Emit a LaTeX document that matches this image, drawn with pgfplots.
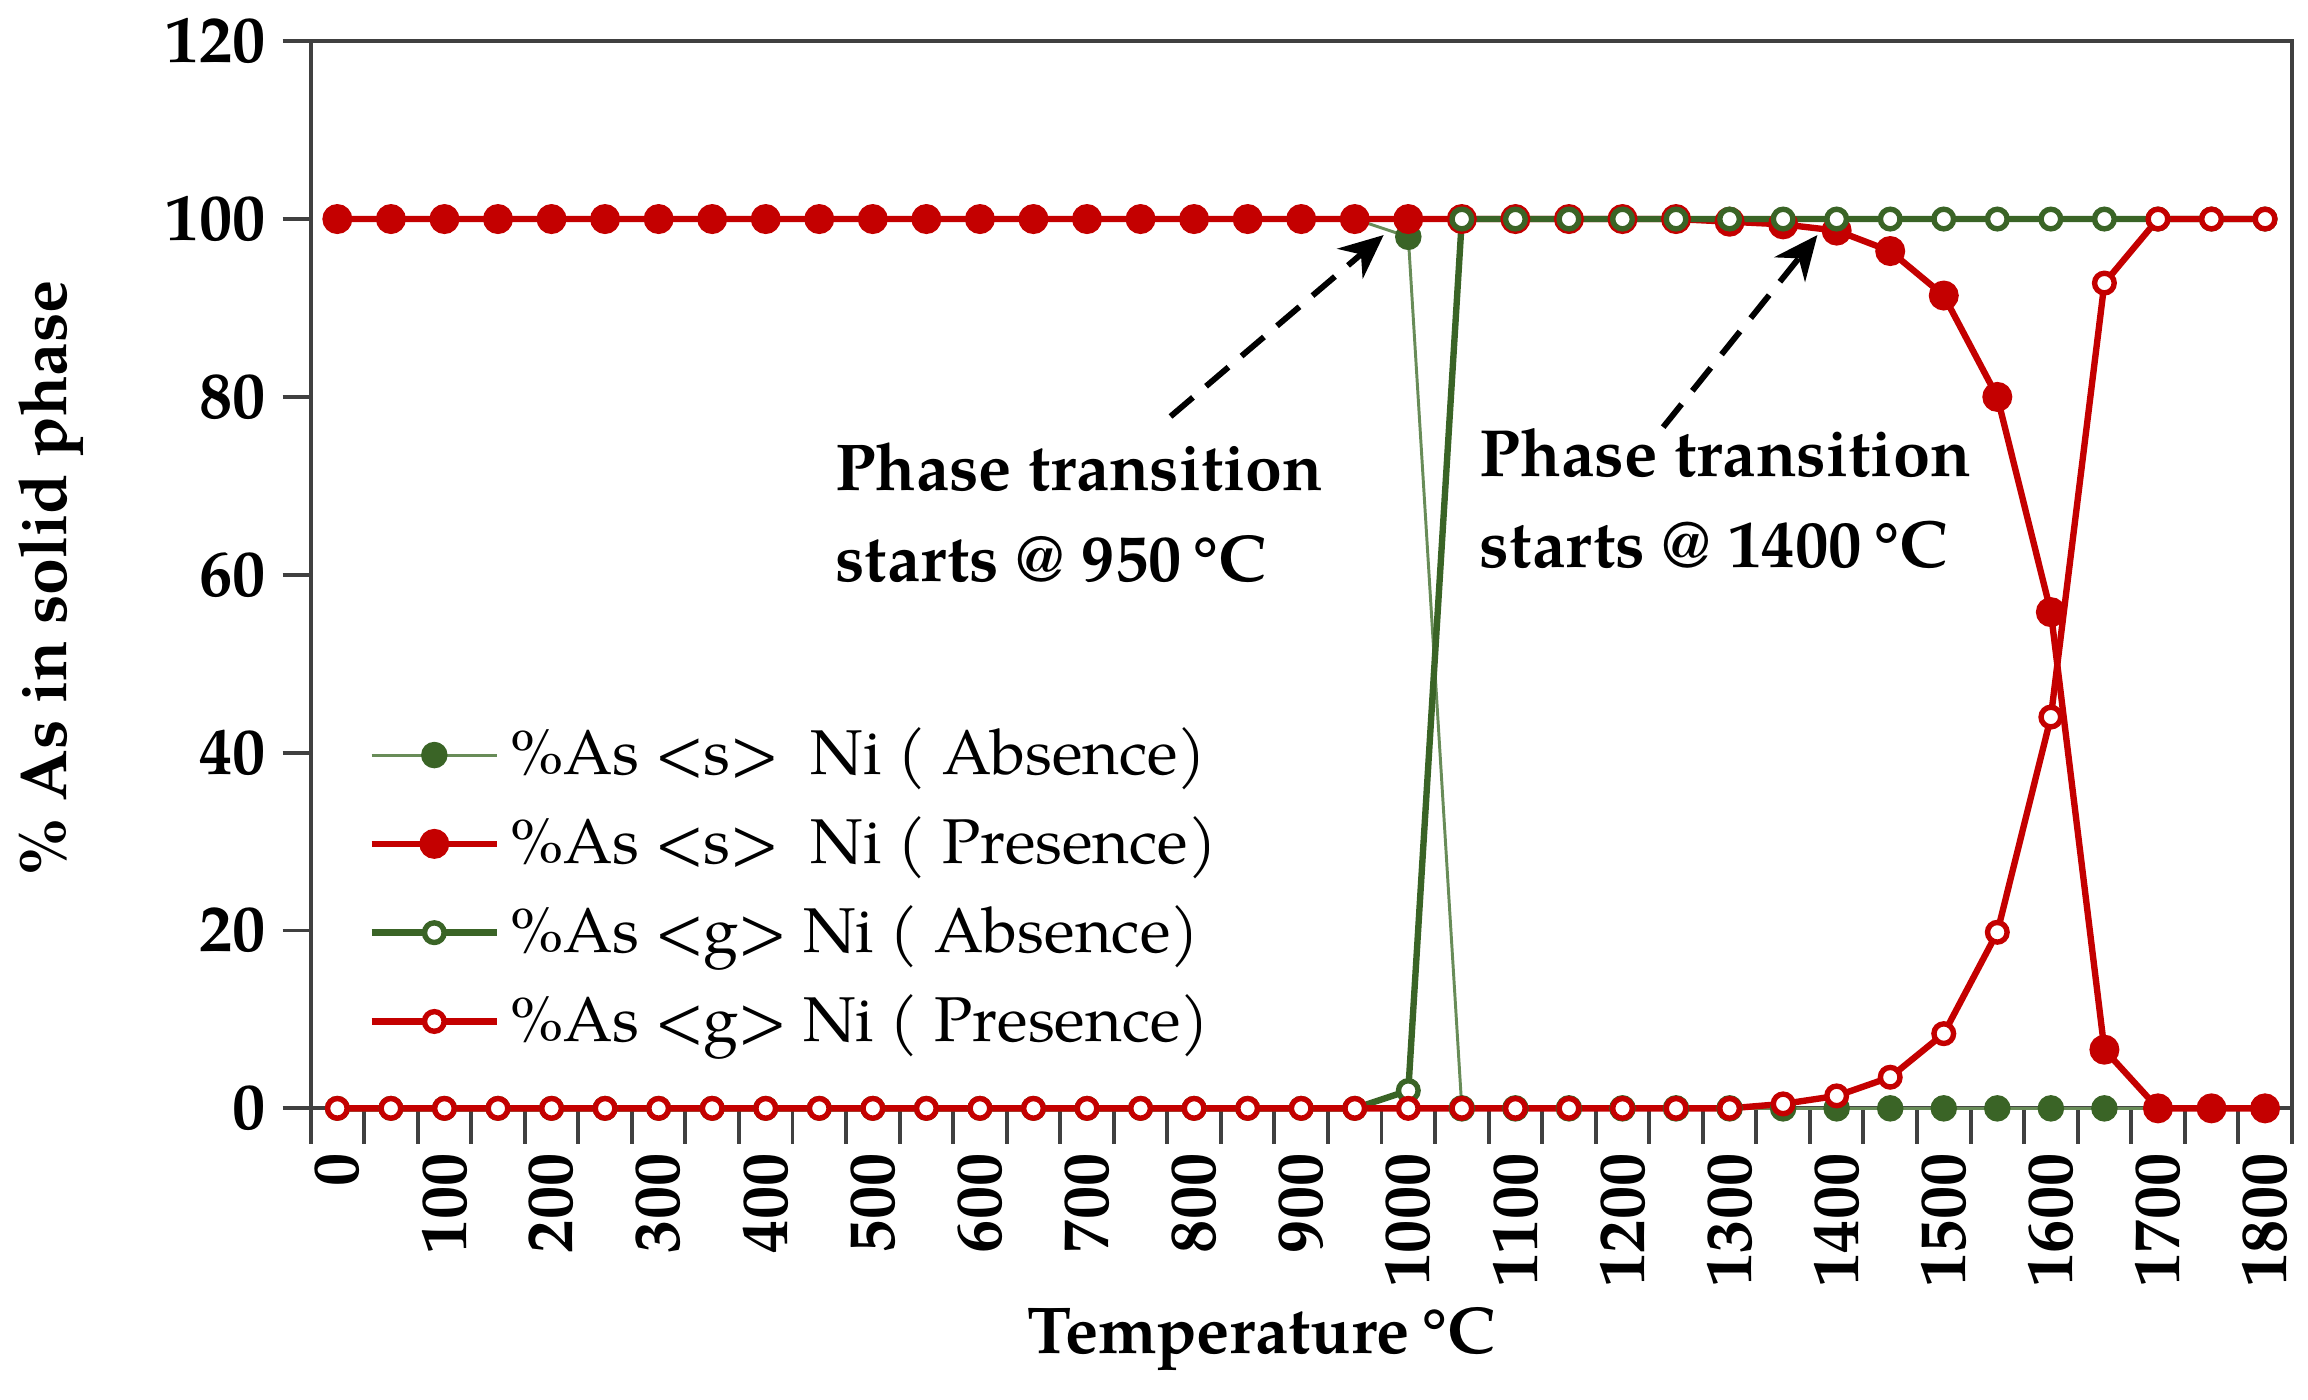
\documentclass[border=0pt]{standalone}
\usepackage{fontspec}
\setmainfont{TeX Gyre Pagella}
\usepackage{pgfplots}
\pgfplotsset{compat=1.18}
\usetikzlibrary{arrows.meta}
\definecolor{myred}{RGB}{196,0,0}
\definecolor{mygreen}{RGB}{58,100,38}
\definecolor{mylgreen}{RGB}{104,140,88}
\definecolor{axgray}{RGB}{64,64,64}
\begin{document}
\begin{tikzpicture}
\begin{axis}[
  at={(0,0)}, anchor=south west,
  scale only axis, width=403.8pt, height=217.5pt,
  xmin=-25, xmax=1825, ymin=0, ymax=120,
  xtick={0,100,...,1800},
  minor xtick={-25,25,...,1825},
  major x tick style={draw=none},
  ytick={0,20,...,120},
  tick pos=left,
  tick align=outside,
  major tick length=5.7pt, minor tick length=7.2pt,
  axis line style={axgray, line width=0.8pt},
  every tick/.style={axgray, line width=0.8pt},
  /pgf/number format/assume math mode=true,
  /pgf/number format/1000 sep={},
  yticklabel style={font=\fontsize{13.5}{14}\selectfont\bfseries},
  xticklabel style={rotate=90, anchor=east, font=\fontsize{13.5}{14}\selectfont\bfseries},
  xlabel={Temperature\,°C},
  ylabel={\% As in solid phase},
  label style={font=\fontsize{13.5}{16}\selectfont\bfseries},
  xlabel style={at={(axis description cs:0.48,-0.2166)}, anchor=center},
  ylabel style={at={(axis description cs:-0.1308,0.4966)}, anchor=center},
  clip=false,
  legend cell align=left,
  legend style={draw=none, fill=none, inner sep=0pt, at={(axis cs:28,44)}, anchor=north west,
    font=\fontsize{12.9}{13.5}\selectfont, row sep=3.0pt, /tikz/every even column/.append style={column sep=0pt}},
  legend image code/.code={\draw[mark repeat=2,mark phase=2,#1] plot coordinates {(0cm,0cm) (0.45cm,0cm) (0.9cm,0cm)};},
]
\addplot[color=mylgreen, line width=0.6pt, mark=*, mark size=2.4pt, mark options={fill=mygreen, draw=mygreen}] coordinates {
(0,100) (50,100) (100,100) (150,100) (200,100) (250,100) (300,100) (350,100) (400,100) (450,100)
(500,100) (550,100) (600,100) (650,100) (700,100) (750,100) (800,100) (850,100) (900,100) (950,100)
(1000,98) (1050,0) (1100,0) (1150,0) (1200,0) (1250,0) (1300,0) (1350,0) (1400,0) (1450,0)
(1500,0) (1550,0) (1600,0) (1650,0) (1700,0) (1750,0) (1800,0)};
\addlegendentry{\%As <s>~~Ni ( Absence)}
\addplot[color=myred, line width=1.3pt, mark=*, mark size=2.4pt, mark options={fill=myred, draw=myred}] coordinates {
(0,100) (50,100) (100,100) (150,100) (200,100) (250,100) (300,100) (350,100) (400,100) (450,100)
(500,100) (550,100) (600,100) (650,100) (700,100) (750,100) (800,100) (850,100) (900,100) (950,100)
(1000,100) (1050,100) (1100,100) (1150,100) (1200,100) (1250,100) (1300,99.7) (1350,99.4) (1400,98.7) (1450,96.4)
(1500,91.4) (1550,80) (1600,55.8) (1650,6.6) (1700,0) (1750,0) (1800,0)};
\addlegendentry{\%As <s>~~Ni ( Presence)}
\addplot[color=mygreen, line width=1.3pt, mark=*, mark size=2pt, mark options={fill=white, draw=mygreen, line width=1.1pt}] coordinates {
(0,0) (50,0) (100,0) (150,0) (200,0) (250,0) (300,0) (350,0) (400,0) (450,0)
(500,0) (550,0) (600,0) (650,0) (700,0) (750,0) (800,0) (850,0) (900,0) (950,0)
(1000,2) (1050,100) (1100,100) (1150,100) (1200,100) (1250,100) (1300,100) (1350,100) (1400,100) (1450,100)
(1500,100) (1550,100) (1600,100) (1650,100) (1700,100) (1750,100) (1800,100)};
\addlegendentry{\%As <g> Ni ( Absence)}
\addplot[color=myred, line width=1.3pt, mark=*, mark size=2pt, mark options={fill=white, draw=myred, line width=1.1pt}] coordinates {
(0,0) (50,0) (100,0) (150,0) (200,0) (250,0) (300,0) (350,0) (400,0) (450,0)
(500,0) (550,0) (600,0) (650,0) (700,0) (750,0) (800,0) (850,0) (900,0) (950,0)
(1000,0) (1050,0) (1100,0) (1150,0) (1200,0) (1250,0) (1300,0) (1350,0.5) (1400,1.4) (1450,3.5)
(1500,8.4) (1550,19.8) (1600,44) (1650,92.8) (1700,100) (1750,100) (1800,100)};
\addlegendentry{\%As <g> Ni ( Presence)}
\node[anchor=north west, align=left, inner sep=0pt, font=\fontsize{13.5}{18.6}\selectfont\bfseries] at (axis cs:464,75) {Phase transition\\starts @ 950\,°C};
\node[anchor=north west, align=left, inner sep=0pt, font=\fontsize{13.6}{18.6}\selectfont\bfseries] at (axis cs:1066,76.6) {Phase transition\\starts @ 1400\,°C};
\draw[black, line width=1.2pt, dash pattern=on 6pt off 3.5pt, -{Stealth[length=9pt,width=8pt]}] (axis cs:778,77.8) -- (axis cs:977,98.2);
\draw[black, line width=1.2pt, dash pattern=on 6pt off 3.5pt, -{Stealth[length=9pt,width=8pt]}] (axis cs:1238,76.6) -- (axis cs:1382,98.2);
\end{axis}
\pgfresetboundingbox
\path[use as bounding box] (-63.3pt,-59.4pt) rectangle (407.1pt,225.9pt);
\end{tikzpicture}
\end{document}
